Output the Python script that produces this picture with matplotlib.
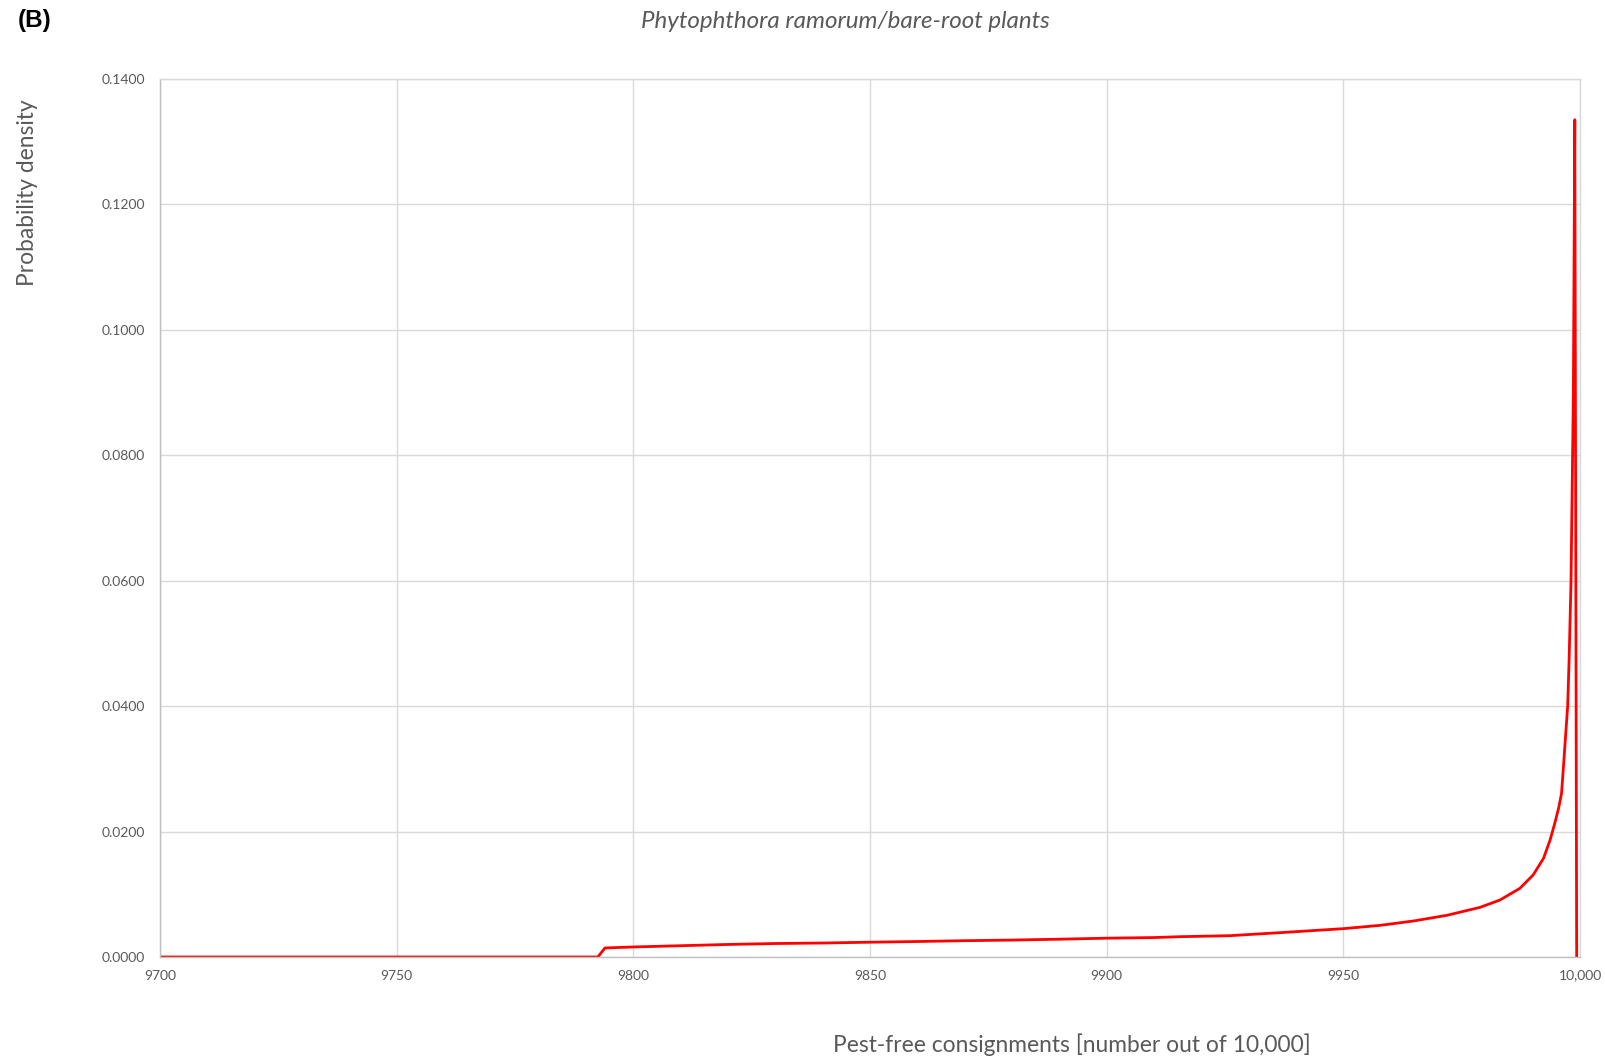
import matplotlib
matplotlib.use("Agg")
import matplotlib.pyplot as plt

# density of pest-free consignments (out of 10,000)
consignments = [9700, 9792.5, 9794, 9800, 9810, 9820, 9830, 9840, 9850, 9860,
                9870, 9880, 9890, 9900, 9910, 9915.5, 9926, 9936.6, 9950,
                9957.8, 9964.8, 9971.9, 9978.9, 9983.1, 9987.3, 9990.1,
                9992.3, 9993.7, 9994.7, 9995.5, 9996.1, 9996.6, 9997.4,
                9997.7, 9998.1, 9998.6, 9998.9, 9999.3]
density = [0.0, 0.0, 0.00144, 0.0016, 0.0018, 0.0020, 0.00215, 0.00223,
           0.00236, 0.00247, 0.0026, 0.0027, 0.00284, 0.0030, 0.0031,
           0.00324, 0.0034, 0.00388, 0.00452, 0.00505, 0.00574, 0.00665,
           0.00792, 0.00909, 0.01095, 0.01308, 0.01574, 0.0187, 0.0214,
           0.0238, 0.0261, 0.0314, 0.0401, 0.0474, 0.0598, 0.090, 0.1335, 0.0]

x_ticks = [9700, 9750, 9800, 9850, 9900, 9950, 10000]
x_labels = ["9700", "9750", "9800", "9850", "9900", "9950", "10,000"]
y_ticks = [0.0, 0.02, 0.04, 0.06, 0.08, 0.10, 0.12, 0.14]

grey = "#595959"
grid = "#d9d9d9"

fig = plt.figure(figsize=(16.05, 10.61), dpi=100)
ax = fig.add_axes([160 / 1605, 104 / 1061, 1420 / 1605, 878 / 1061])

ax.plot(consignments, density, color="#ff0000", lw=2.0, solid_joinstyle="round")

ax.set_xlim(9700, 10000)
ax.set_ylim(0, 0.14)
ax.set_xticks(x_ticks)
ax.set_xticklabels(x_labels)
ax.set_yticks(y_ticks)
ax.set_yticklabels([f"{v:.4f}" for v in y_ticks])
ax.tick_params(length=0, labelsize=10, labelcolor=grey)
ax.tick_params(axis="x", pad=9)
ax.tick_params(axis="y", pad=11)
for lbl in ax.get_xticklabels() + ax.get_yticklabels():
    lbl.set_family("Lato")

ax.grid(True, color=grid, lw=1.0)
ax.set_axisbelow(True)
for side in ["top", "right"]:
    ax.spines[side].set_color(grid)
for side in ["left", "bottom"]:
    ax.spines[side].set_color("#bfbfbf")
for sp in ax.spines.values():
    sp.set_linewidth(1.0)

fig.text(18 / 1605, 1 - 21 / 1061, "(B)", fontsize=17.5, fontweight="bold",
         family="Liberation Sans", va="center", ha="left")
fig.text(845 / 1605, 1 - 21 / 1061, "Phytophthora ramorum/bare-root plants",
         fontsize=17.4, style="italic", color=grey, family="Lato",
         ha="center", va="center")
fig.text(28 / 1605, 1 - 193 / 1061, "Probability density", fontsize=16.4,
         color=grey, family="Lato", rotation=90, ha="center", va="center")
fig.text(1072 / 1605, 1 - 1045 / 1061,
         "Pest-free consignments [number out of 10,000]", fontsize=16.4,
         color=grey, family="Lato", ha="center", va="center")

fig.savefig("out.png", dpi=100)
